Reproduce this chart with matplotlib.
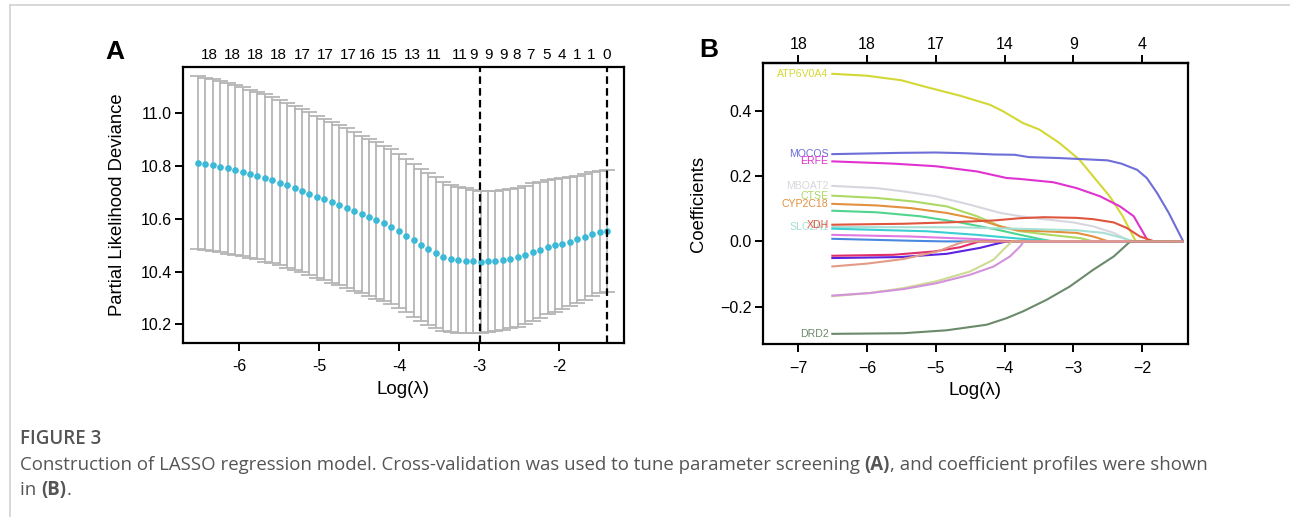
import matplotlib
matplotlib.use("Agg")
import matplotlib.pyplot as plt
from matplotlib.lines import Line2D
import numpy as np

plt.rcParams['font.family'] = ['Liberation Sans', 'DejaVu Sans']

# ---- panel A: cross-validated partial likelihood deviance ----
log_lambda = np.linspace(-6.52, -1.40, 56)
cv_mean = [10.813, 10.809, 10.803, 10.798, 10.791, 10.785, 10.779, 10.771,
           10.764, 10.755, 10.746, 10.737, 10.727, 10.717, 10.707, 10.695,
           10.684, 10.674, 10.662, 10.651, 10.641, 10.628, 10.617, 10.606,
           10.594, 10.583, 10.570, 10.554, 10.536, 10.518, 10.502, 10.486,
           10.472, 10.456, 10.449, 10.444, 10.441, 10.439, 10.437, 10.439,
           10.441, 10.444, 10.448, 10.454, 10.463, 10.473, 10.483, 10.492,
           10.499, 10.506, 10.513, 10.522, 10.532, 10.542, 10.550, 10.554]
cv_se = [0.328, 0.327, 0.326, 0.324, 0.323, 0.322, 0.320, 0.319, 0.318, 0.317,
         0.315, 0.314, 0.313, 0.311, 0.310, 0.309, 0.307, 0.306, 0.305, 0.303,
         0.302, 0.301, 0.299, 0.298, 0.297, 0.295, 0.294, 0.293, 0.291, 0.290,
         0.288, 0.287, 0.285, 0.283, 0.280, 0.277, 0.274, 0.272, 0.269, 0.267,
         0.266, 0.265, 0.264, 0.263, 0.262, 0.261, 0.258, 0.255, 0.251, 0.248,
         0.245, 0.242, 0.239, 0.236, 0.233, 0.230]
lambda_min = -2.99
lambda_1se = -1.40
nz_pos = [-6.38, -6.09, -5.80, -5.51, -5.21, -4.92, -4.64, -4.40, -4.12, -3.84,
          -3.57, -3.24, -3.07, -2.88, -2.70, -2.53, -2.36, -2.16, -1.97, -1.78,
          -1.60, -1.41]
nz_labels = ['18', '18', '18', '18', '17', '17', '17', '16', '15', '13', '11',
             '11', '9', '9', '9', '8', '7', '5', '4', '1', '1', '0']

# ---- panel B: coefficient profiles ----
coef_top_pos = [-7, -6, -5, -4, -3, -2]
coef_top_labels = ['18', '18', '17', '14', '9', '4']

gene_names = ['ATP6V0A4', 'MOCOS', 'ERFE', 'MBOAT2', 'CTSE', 'CYP2C18', '',
              'SLC2A1', 'XDH', '', '', '', '', '', '', '', 'DRD2', '']
path_x = [
    [-6.52, -6.0, -5.5, -5.13, -4.65, -4.21, -4.02, -3.73, -3.49, -3.20, -2.91, -2.71, -2.47, -2.28, -2.09],
    [-6.52, -5.5, -5.0, -4.6, -4.15, -3.85, -3.65, -3.2, -2.7, -2.5, -2.3, -2.07, -1.93, -1.78, -1.61, -1.40],
    [-6.52, -5.62, -5.0, -4.40, -3.97, -3.77, -3.29, -2.95, -2.61, -2.32, -2.12, -1.98, -1.91],
    [-6.52, -5.86, -5.47, -5.0, -4.50, -4.06, -3.77, -3.43, -3.00, -2.71, -2.41, -2.22, -2.15],
    [-6.52, -5.86, -5.32, -4.84, -4.40, -4.06, -3.77, -3.34, -2.90, -2.71],
    [-6.52, -5.86, -5.37, -4.84, -4.40, -4.06, -3.82, -3.43, -2.95, -2.71, -2.49],
    [-6.52, -5.86, -5.23, -4.65, -4.11, -3.77, -3.43, -3.29],
    [-6.52, -4.65, -3.68, -2.95, -2.56, -2.27, -2.12],
    [-6.52, -5.47, -4.84, -4.16, -3.77, -3.43, -2.95, -2.71, -2.41, -2.22, -2.03, -1.82],
    [-6.52, -5.13, -4.40, -3.87, -3.29],
    [-6.52, -5.37, -4.40, -3.87],
    [-6.52, -5.37, -4.89],
    [-6.52, -5.52, -4.84, -4.36, -4.11, -3.97],
    [-6.52, -5.62, -5.03, -4.65, -4.36],
    [-6.52, -5.96, -5.47, -4.99, -4.50, -4.16, -3.99, -3.89],
    [-6.52, -5.96, -5.47, -4.99, -4.50, -4.16, -3.92, -3.77, -3.72],
    [-6.52, -5.47, -4.84, -4.26, -3.97, -3.73, -3.39, -3.05, -2.71, -2.41, -2.17],
    [-6.52, -6.0, -5.47, -4.98, -4.65, -4.55],
]
path_y = [
    [0.513, 0.507, 0.493, 0.472, 0.446, 0.418, 0.398, 0.362, 0.342, 0.301, 0.250, 0.199, 0.138, 0.077, 0.0],
    [0.267, 0.271, 0.272, 0.270, 0.266, 0.265, 0.258, 0.255, 0.250, 0.248, 0.238, 0.219, 0.194, 0.148, 0.087, 0.0],
    [0.245, 0.238, 0.230, 0.214, 0.194, 0.191, 0.181, 0.163, 0.138, 0.107, 0.077, 0.026, 0.0],
    [0.170, 0.163, 0.153, 0.138, 0.112, 0.087, 0.077, 0.068, 0.058, 0.046, 0.026, 0.005, 0.0],
    [0.140, 0.133, 0.122, 0.107, 0.077, 0.046, 0.031, 0.020, 0.010, 0.0],
    [0.115, 0.110, 0.102, 0.087, 0.068, 0.046, 0.034, 0.031, 0.026, 0.015, 0.0],
    [0.094, 0.089, 0.077, 0.058, 0.036, 0.020, 0.005, 0.0],
    [0.044, 0.043, 0.038, 0.034, 0.026, 0.010, 0.0],
    [0.051, 0.054, 0.058, 0.064, 0.071, 0.074, 0.072, 0.068, 0.058, 0.041, 0.015, 0.0],
    [0.039, 0.031, 0.020, 0.010, 0.0],
    [0.020, 0.015, 0.007, 0.0],
    [0.008, 0.002, 0.0],
    [-0.051, -0.048, -0.038, -0.020, -0.007, 0.0],
    [-0.044, -0.041, -0.031, -0.018, 0.0],
    [-0.168, -0.158, -0.143, -0.122, -0.092, -0.056, -0.020, 0.0],
    [-0.166, -0.158, -0.146, -0.128, -0.102, -0.077, -0.046, -0.015, 0.0],
    [-0.283, -0.281, -0.272, -0.255, -0.235, -0.214, -0.179, -0.138, -0.087, -0.046, 0.0],
    [-0.077, -0.068, -0.054, -0.031, -0.005, 0.0],
]
gene_colors = ['#d4d834', '#6e6ed8', '#e032cf', '#d6d6de', '#acd964', '#e2913e',
               '#4fd58e', '#a6e0d4', '#e0553e', '#3ccfd2', '#e07ae2', '#4a88e0',
               '#5b22e0', '#e0306c', '#cfda94', '#d393da', '#6b8a6b', '#e39a86']

W, H = 1290, 517
fig = plt.figure(figsize=(W / 100, H / 100), dpi=100)
fig.patch.set_facecolor('white')


def px_axes(l, t, r, b):
    return fig.add_axes([l / W, 1 - b / H, (r - l) / W, (b - t) / H])


def style(ax):
    for s in ax.spines.values():
        s.set_linewidth(1.6)
    ax.tick_params(axis='both', length=6, width=1.4, labelsize=11.5, color='black')
    ax.tick_params(axis='x', pad=6)
    ax.tick_params(axis='y', pad=1.8)


# panel A
axA = px_axes(182.7, 66.7, 624.2, 342.7)
axA.errorbar(log_lambda, cv_mean, yerr=cv_se, fmt='none', ecolor='#b5b5b5',
             elinewidth=1.3, capsize=5.6, capthick=1.3, zorder=1)
axA.plot(log_lambda, cv_mean, 'o', color='#3cb9d6', ms=4.8, mec='none', zorder=3)
for v in (lambda_min, lambda_1se):
    axA.axvline(v, color='black', lw=1.6, dashes=(3.4, 1.9), zorder=4)
axA.set_xlim(-6.71, -1.185)
axA.set_ylim(10.130, 11.177)
axA.set_xticks([-6, -5, -4, -3, -2], ['-6', '-5', '-4', '-3', '-2'])
axA.set_yticks([10.2, 10.4, 10.6, 10.8, 11.0], ['10.2', '10.4', '10.6', '10.8', '11.0'])
style(axA)
axA.set_xlabel('Log(λ)', fontsize=13.5, va='center')
axA.xaxis.set_label_coords(0.5, -0.171)
axA.set_ylabel('Partial Likelihood Deviance', fontsize=13.3, va='center')
axA.yaxis.set_label_coords(-0.147, 0.5)
for p, s in zip(nz_pos, nz_labels):
    axA.text(p, 1.043, s, transform=axA.get_xaxis_transform(), ha='center',
             va='center', fontsize=11)

# panel B
axB = px_axes(762.7, 63.3, 1188.3, 344.0)
for i in range(len(path_x)):
    xs = list(path_x[i]) + [log_lambda[-1]]
    ys = list(path_y[i]) + [0.0]
    axB.plot(xs, ys, color=gene_colors[i], lw=1.5, solid_capstyle='butt')
for i, name in enumerate(gene_names):
    if name:
        axB.text(-6.56, path_y[i][0], name, ha='right', va='center',
                 fontsize=7.6, color=gene_colors[i])
axB.set_xlim(-7.518, -1.326)
axB.set_ylim(-0.314, 0.545)
axB.set_xticks([-7, -6, -5, -4, -3, -2])
axB.set_yticks([-0.2, 0.0, 0.2, 0.4])
style(axB)
axB.set_xlabel('Log(λ)', fontsize=13.5, va='center')
axB.xaxis.set_label_coords(0.5, -0.166)
axB.set_ylabel('Coefficients', fontsize=13.3, va='center')
axB.yaxis.set_label_coords(-0.150, 0.5)
top = axB.secondary_xaxis('top')
top.set_xticks(coef_top_pos, coef_top_labels)
top.tick_params(length=6, width=1.4, labelsize=11.5, pad=2)
top.spines['top'].set_linewidth(1.6)

# panel letters
fig.text(115 / W, 1 - 52 / H, 'A', fontsize=19, fontweight='bold', ha='center', va='center')
fig.text(709 / W, 1 - 50 / H, 'B', fontsize=19, fontweight='bold', ha='center', va='center')

# page frame
fig.add_artist(Line2D([10 / W, 1], [1 - 5 / H, 1 - 5 / H], color='#d2d2d2', lw=1.2))
fig.add_artist(Line2D([10 / W, 10 / W], [0, 1 - 5 / H], color='#d2d2d2', lw=1.2))

# caption
renderer = fig.canvas.get_renderer()
cap_kw = dict(fontsize=13.4, color='#555555', va='center', family=['Open Sans', 'DejaVu Sans'])


def put_runs(x, y, runs):
    for s, w in runs:
        t = fig.text(x / W, 1 - y / H, s, fontweight=w, **cap_kw)
        x += t.get_window_extent(renderer=renderer).width


fig.text(20 / W, 1 - 439 / H, 'FIGURE 3', fontsize=13.5, color='#555555', va='center',
         fontweight='semibold', family=['Open Sans', 'DejaVu Sans'])
put_runs(20, 465, [('Construction of LASSO regression model. Cross-validation was used to tune '
                    'parameter screening ', 'normal'), ('(A)', 'bold'),
                   (', and coefficient profiles were shown', 'normal')])
put_runs(20, 490, [('in ', 'normal'), ('(B)', 'bold'), ('.', 'normal')])

fig.savefig('out.png', dpi=100, facecolor='white')
